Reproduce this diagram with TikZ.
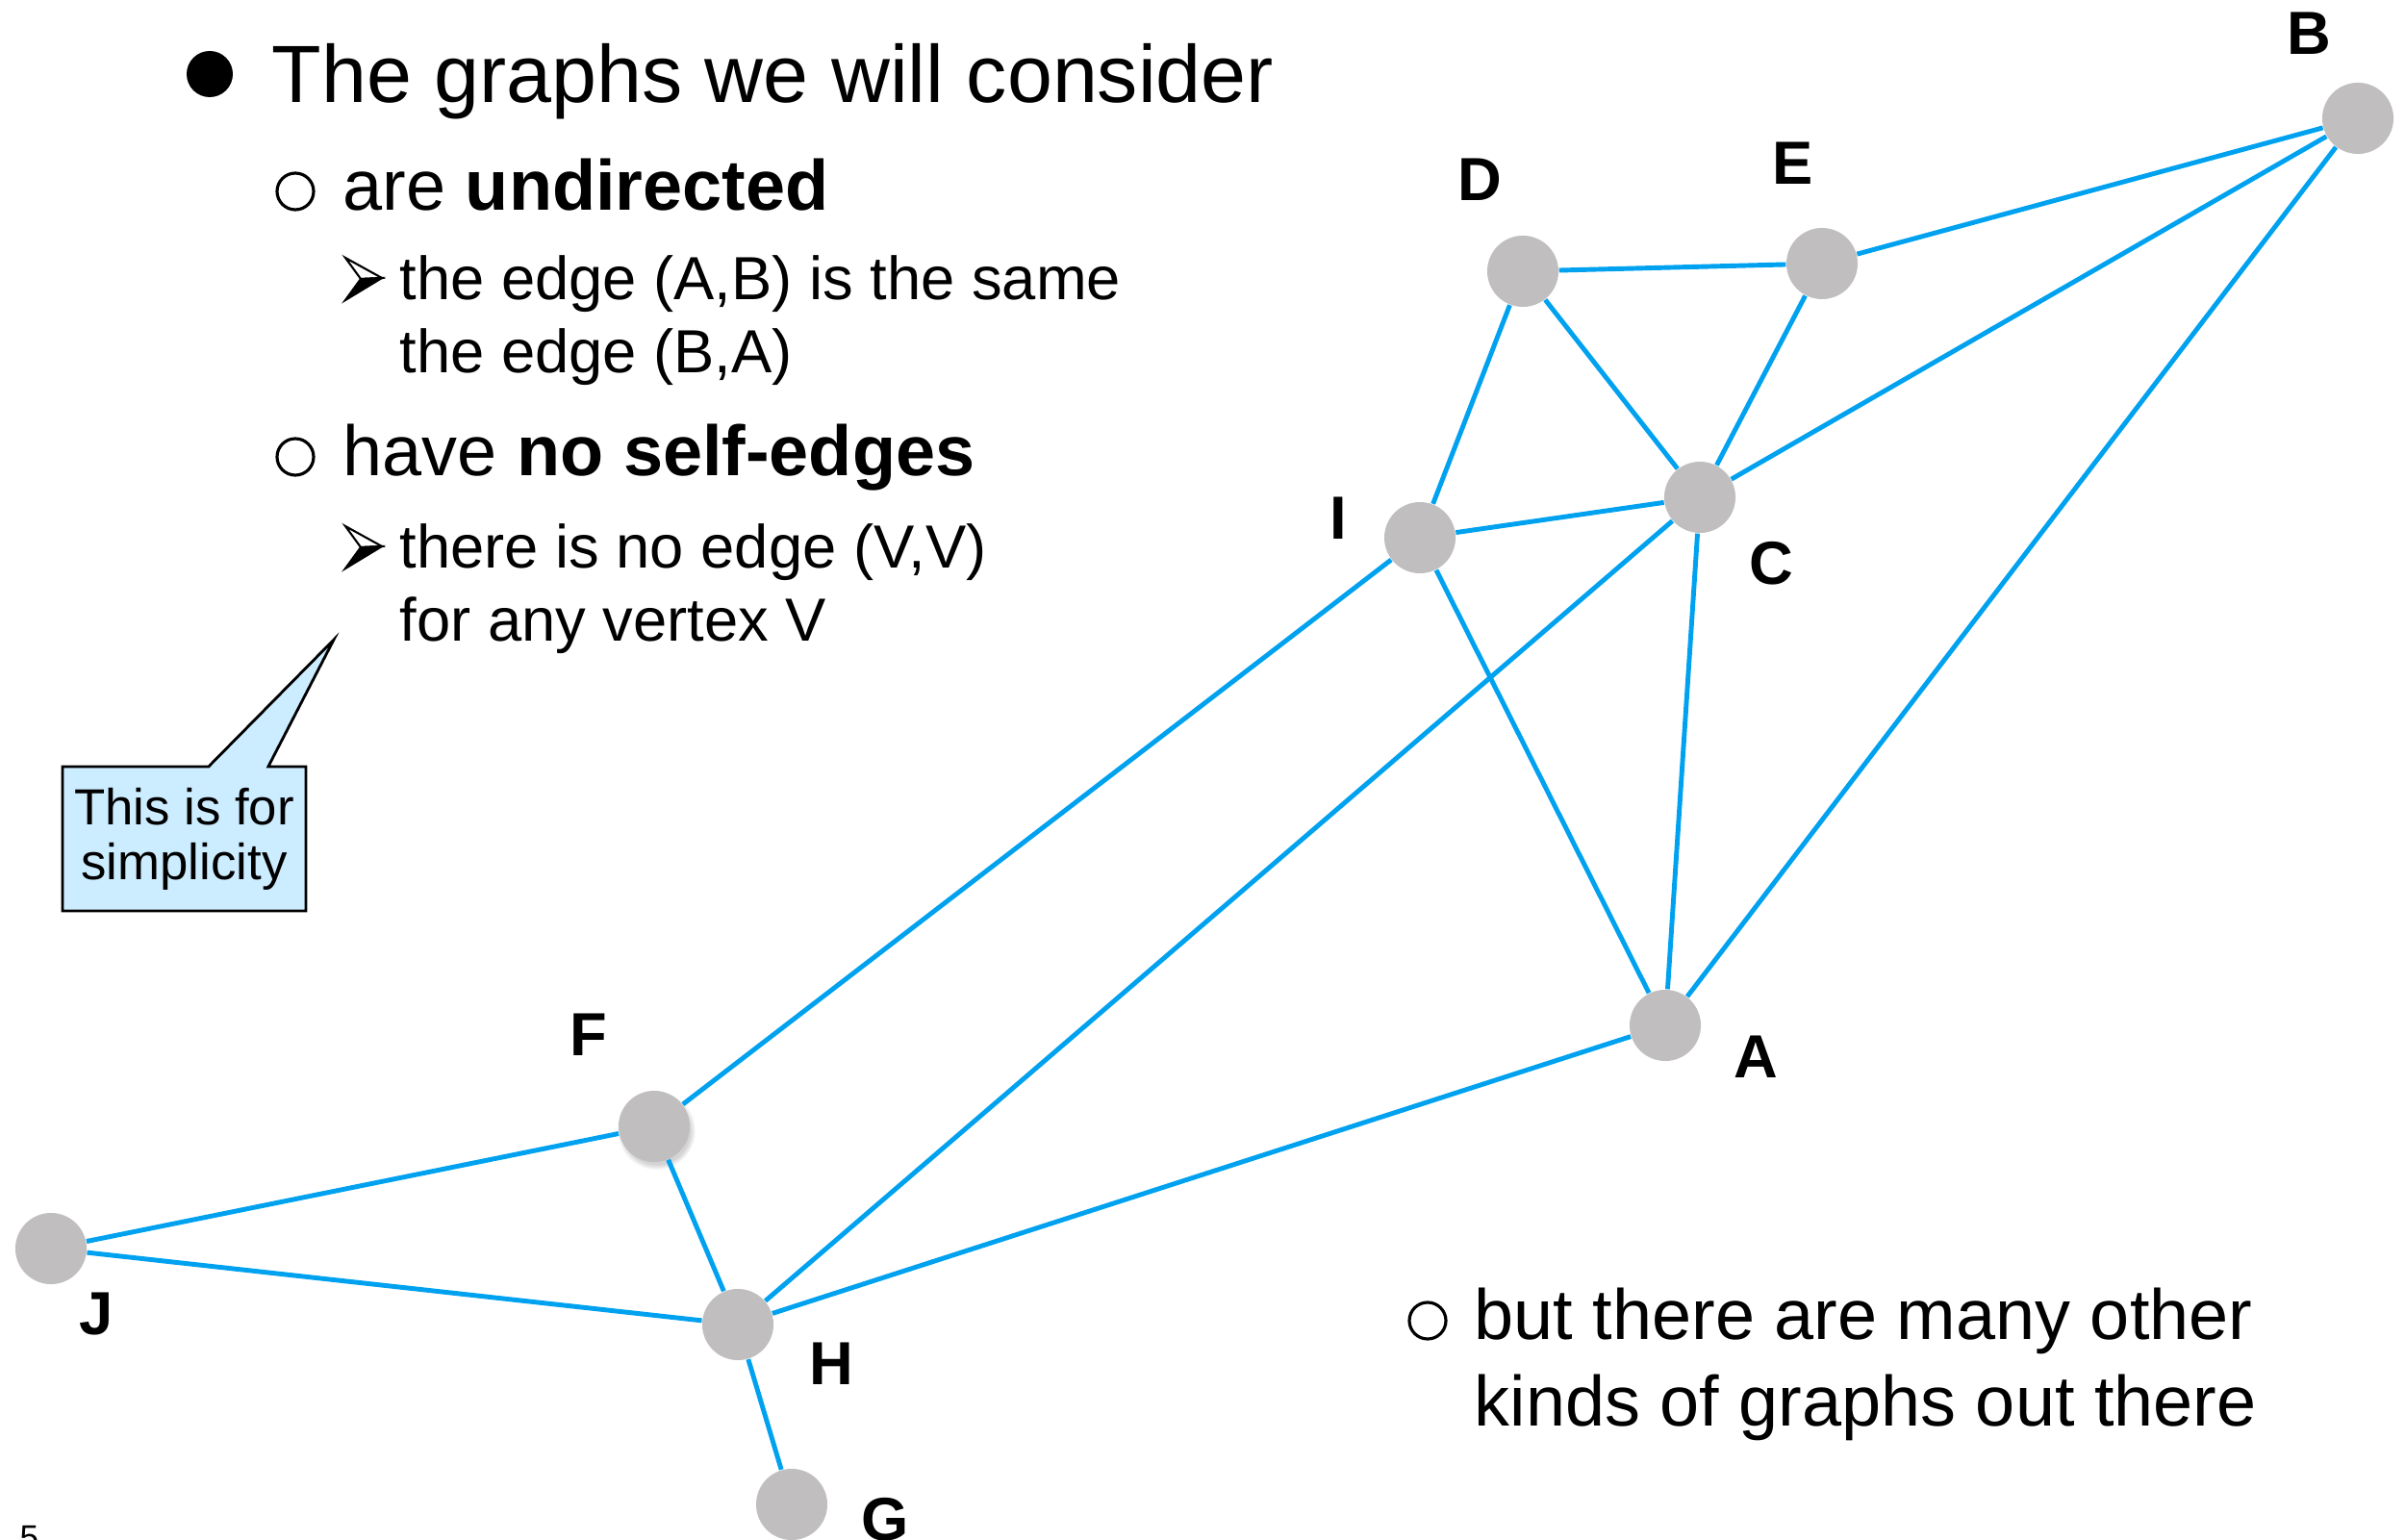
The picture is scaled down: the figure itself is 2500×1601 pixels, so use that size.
\documentclass[tikz,border=0pt]{standalone}
\usepackage{fontspec}
\setmainfont{Liberation Sans}
\usetikzlibrary{shapes.callouts,shadows}
\definecolor{edgeblue}{RGB}{0,162,240}
\definecolor{vgray}{RGB}{192,190,191}
\definecolor{noteblue}{RGB}{204,236,255}
\tikzset{
  vertex/.style={
    circle,
    fill=vgray,
    minimum size=0.74cm,
    inner sep=0pt
  },
  vname/.style={
    font=\bfseries\fontsize{18}{22}\selectfont,
    inner sep=0pt
  },
  link/.style={
    draw=edgeblue,
    line width=1.4pt
  },
  topline/.style={
    font=\fontsize{24}{29}\selectfont,
    anchor=base west,
    inner sep=0pt
  },
  subline/.style={
    font=\fontsize{21}{25}\selectfont,
    anchor=base west,
    inner sep=0pt
  },
  subsubline/.style={
    font=\fontsize{18}{22}\selectfont,
    anchor=base west,
    inner sep=0pt
  },
  note/.style={
    rectangle callout,
    draw=black,
    line width=0.8pt,
    fill=noteblue,
    minimum width=2.53cm,
    minimum height=1.5cm,
    callout pointer width=0.62cm,
    align=center,
    inner sep=0pt,
    font=\fontsize{15}{16.2}\selectfont
  }
}

\begin{document}
\begin{tikzpicture}[x=0.01cm, y=-0.01cm]
  \useasboundingbox (0,0) rectangle (2500,1601);

  % bullet text
  \fill (218,77) circle [radius=24];
  \node[topline] (title) at (282,107) {The graphs we will consider};

  \draw[line width=0.9pt] (307,199) circle [radius=19];
  \node[subline] (undir) at (356,219) {are \textbf{undirected}};
  \node[subsubline] (same1) at (415,312) {the edge (A,B) is the same};
  \node[subsubline] (same2) at (415,388) {the edge (B,A)};

  \draw[line width=0.9pt] (307,475) circle [radius=19];
  \node[subline] (noself) at (356,495) {have \textbf{no self-edges}};
  \node[subsubline] (vv1) at (415,591) {there is no edge (V,V)};
  \node[subsubline] (vv2) at (415,667) {for any vertex V};

  \foreach \yy in {268,547} {
    \filldraw[fill=white, draw=black, line width=0.6pt]
      (359,\yy) -- (397,{\yy+21}) -- (375,{\yy+22}) -- cycle;
    \filldraw[fill=black, draw=black, line width=0.6pt]
      (375,{\yy+22}) -- (397,{\yy+21}) -- (359,{\yy+44}) -- cycle;
  }

  \draw[line width=0.9pt] (1484,1373) circle [radius=19];
  \node[subline] (other1) at (1532,1392) {but there are many other};
  \node[subline] (other2) at (1532,1482) {kinds of graphs out there};

  % callout
  \coordinate (tip) at (347,665);
  \node[note, callout absolute pointer={(tip)}] (simple) at (191.5,872)
    {This is for\\simplicity};

  % vertices
  \node[vertex] (A) at (1731,1066) {};
  \node[vertex] (B) at (2451,123) {};
  \node[vertex] (C) at (1767,517) {};
  \node[vertex] (D) at (1583,282) {};
  \node[vertex] (E) at (1894,274) {};
  \node[vertex, circular drop shadow={shadow xshift=0.02cm, shadow yshift=-0.04cm, opacity=0.35}] (F) at (680,1171) {};
  \node[vertex] (G) at (823,1564) {};
  \node[vertex] (H) at (767,1377) {};
  \node[vertex] (I) at (1476,559) {};
  \node[vertex] (J) at (53,1298) {};

  \node[vname] (labA) at (1825,1099) {A};
  \node[vname] (labB) at (2400,35) {B};
  \node[vname] (labC) at (1841,586) {C};
  \node[vname] (labD) at (1538,187) {D};
  \node[vname] (labE) at (1864,170) {E};
  \node[vname] (labF) at (612,1076) {F};
  \node[vname] (labG) at (920,1580) {G};
  \node[vname] (labH) at (864,1418) {H};
  \node[vname] (labI) at (1391,539) {I};
  \node[vname] (labJ) at (100,1366) {J};

  % edges
  \foreach \a/\b in {D/E,E/B,D/I,D/C,E/C,C/B,I/C,B/A,I/A,C/A,I/F,C/H,A/H,F/J,F/H,J/H,H/G}
    \draw[link] (\a) -- (\b);

  \node[font=\fontsize{10}{12}\selectfont, anchor=base west, inner sep=0pt] (pagenum) at (20,1610) {5};
\end{tikzpicture}
\end{document}
